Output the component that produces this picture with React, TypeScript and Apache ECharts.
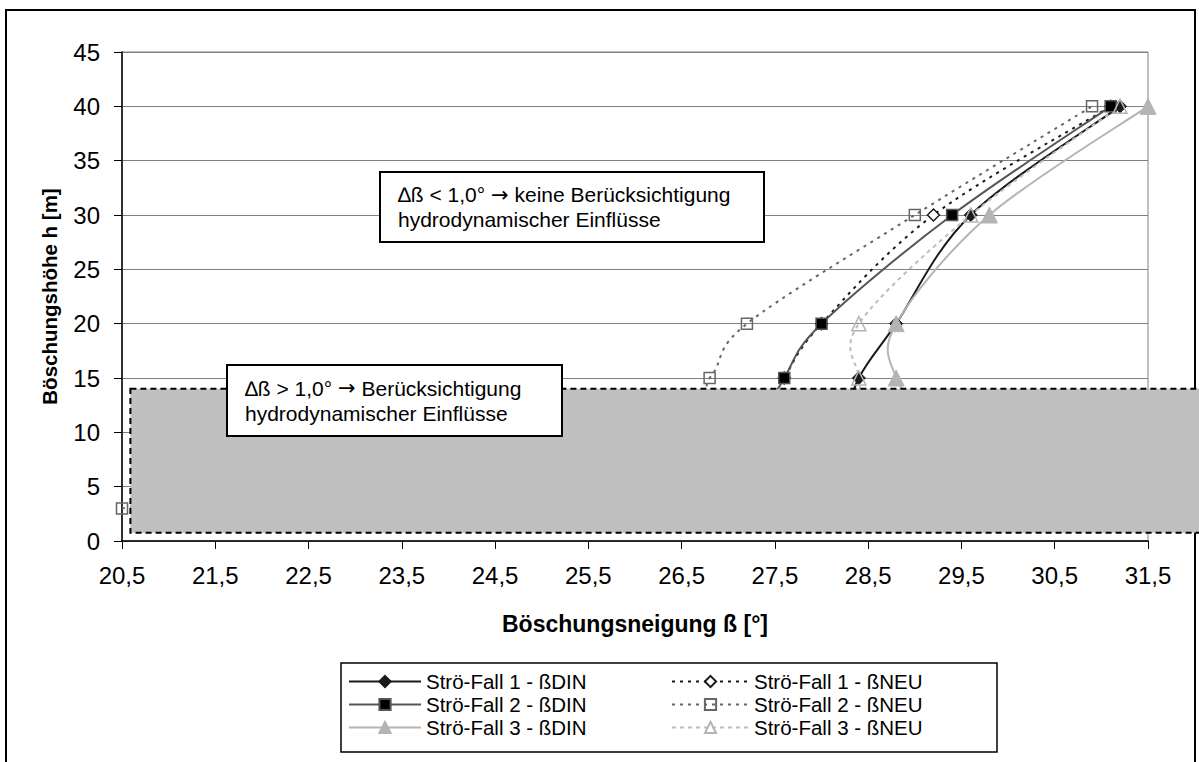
import React, { useEffect, useRef } from "react";
import * as echarts from "echarts";

// ---- data (values below h = 14 lie under the grey band) ----
const heights = [3, 10, 15, 20, 30, 40];
const fall1DIN = [27.9, 28.2, 28.4, 28.8, 29.6, 31.2];
const fall1NEU = [27.0, 27.3, 27.6, 28.0, 29.2, 31.1];
const fall2DIN = [27.0, 27.3, 27.6, 28.0, 29.4, 31.1];
const fall2NEU = [20.5, 26.2, 26.8, 27.2, 29.0, 30.9];
const fall3DIN = [29.6, 29.2, 28.8, 28.8, 29.8, 31.5];
const fall3NEU = [28.6, 28.5, 28.4, 28.4, 29.6, 31.2];

const xTicks = [20.5, 21.5, 22.5, 23.5, 24.5, 25.5, 26.5, 27.5, 28.5, 29.5, 30.5, 31.5];
const yMin = 0;
const yMax = 45;
const yStep = 5;

const bandTop = 14;
const bandBottom = 0.75;
const bandLeft = 20.59;

const names = [
  "Strö-Fall 1 - ßDIN",
  "Strö-Fall 1 - ßNEU",
  "Strö-Fall 2 - ßDIN",
  "Strö-Fall 2 - ßNEU",
  "Strö-Fall 3 - ßDIN",
  "Strö-Fall 3 - ßNEU",
];

const FONT = "'Liberation Sans', Arial, Helvetica, sans-serif";

const pair = (xs: number[]) => xs.map((x, i) => [x, heights[i]]);

type Sty = {
  name: string;
  xs: number[];
  color: string;
  dash: number[] | null;
  symbol: string;
  size: number;
  fill: string;
  border: string;
  borderWidth: number;
};

const styles: Sty[] = [
  { name: names[0], xs: fall1DIN, color: "#1a1a1a", dash: null, symbol: "diamond", size: 13, fill: "#1a1a1a", border: "#1a1a1a", borderWidth: 1 },
  { name: names[1], xs: fall1NEU, color: "#1a1a1a", dash: [3, 5], symbol: "diamond", size: 12, fill: "#ffffff", border: "#1a1a1a", borderWidth: 1.5 },
  { name: names[2], xs: fall2DIN, color: "#555555", dash: null, symbol: "rect", size: 11, fill: "#000000", border: "#555555", borderWidth: 1.5 },
  { name: names[3], xs: fall2NEU, color: "#666666", dash: [3, 5], symbol: "rect", size: 11, fill: "rgba(255,255,255,0)", border: "#666666", borderWidth: 1.5 },
  { name: names[4], xs: fall3DIN, color: "#b4b4b4", dash: null, symbol: "triangle", size: 16, fill: "#b4b4b4", border: "#b4b4b4", borderWidth: 1 },
  { name: names[5], xs: fall3NEU, color: "#bdbdbd", dash: [4, 4], symbol: "triangle", size: 14, fill: "rgba(255,255,255,0)", border: "#b4b4b4", borderWidth: 1.5 },
];

// Catmull-Rom (Excel-like smoothing) through pixel points
function smoothPath(pts: number[][]): string {
  const n = pts.length;
  if (n < 2) return "";
  let d = `M${pts[0][0]},${pts[0][1]}`;
  for (let i = 0; i < n - 1; i++) {
    const p0 = pts[Math.max(0, i - 1)];
    const p1 = pts[i];
    const p2 = pts[i + 1];
    const p3 = pts[Math.min(n - 1, i + 2)];
    const c1x = p1[0] + (p2[0] - p0[0]) / 6;
    const c1y = p1[1] + (p2[1] - p0[1]) / 6;
    const c2x = p2[0] - (p3[0] - p1[0]) / 6;
    const c2y = p2[1] - (p3[1] - p1[1]) / 6;
    d += ` C${c1x},${c1y} ${c2x},${c2y} ${p2[0]},${p2[1]}`;
  }
  return d;
}

export default function App() {
  const ref = useRef<HTMLDivElement>(null);
  useEffect(() => {
    if (!ref.current) return;
    const chart = echarts.init(ref.current, undefined, { renderer: "svg" });

    const curveSeries: any[] = styles.map((s, k) => ({
      name: "curve" + k,
      type: "custom",
      coordinateSystem: "cartesian2d",
      silent: true,
      z: 2,
      data: [[s.xs[0], heights[0]]],
      renderItem: (_params: any, api: any) => {
        const pts = s.xs.map((x, i) => api.coord([x, heights[i]]));
        return {
          type: "path",
          shape: { pathData: smoothPath(pts) },
          style: {
            fill: "none",
            stroke: s.color,
            lineWidth: 2,
            lineDash: s.dash || undefined,
          },
        };
      },
    }));

    const markerSeries: any[] = styles.map((s) => ({
      name: s.name,
      type: "line",
      data: pair(s.xs),
      clip: false,
      z: 3,
      symbol: s.symbol,
      symbolSize: s.size,
      lineStyle: { color: s.color, width: 2, type: s.dash || "solid", opacity: 0 },
      itemStyle: { color: s.fill, borderColor: s.border, borderWidth: s.borderWidth },
    }));

    const legendItem = (s: Sty) => ({
      name: s.name,
      lineStyle: { color: s.color, width: 2, type: s.dash || "solid", opacity: 1 },
    });

    const legendCommon = {
      orient: "vertical",
      itemHeight: 14,
      itemGap: 0,
      top: 670,
      padding: 0,
      textStyle: { fontFamily: FONT, fontSize: 20.5, lineHeight: 23, color: "#000" },
    };

    chart.setOption({
      animation: false,
      backgroundColor: "#ffffff",
      textStyle: { fontFamily: FONT },
      grid: {
        left: 122,
        right: 51,
        top: 52,
        bottom: 221,
        show: true,
        borderColor: "#808080",
        borderWidth: 1,
        backgroundColor: "transparent",
      },
      xAxis: {
        type: "value",
        min: xTicks[0],
        max: xTicks[xTicks.length - 1],
        name: "Böschungsneigung ß [°]",
        nameLocation: "middle",
        nameGap: 71,
        nameTextStyle: { fontFamily: FONT, fontSize: 23, fontWeight: "bold", color: "#000" },
        axisLine: { show: true, lineStyle: { color: "#000", width: 1.5 } },
        axisTick: { show: true, length: 8, lineStyle: { color: "#000" }, customValues: xTicks },
        axisLabel: {
          customValues: xTicks,
          margin: 22,
          fontSize: 24,
          color: "#000",
          fontFamily: FONT,
          formatter: (v: number) => v.toFixed(1).replace(".", ","),
        },
        splitLine: { show: false },
      },
      yAxis: {
        type: "value",
        min: yMin,
        max: yMax,
        interval: yStep,
        name: "Böschungshöhe h [m]",
        nameLocation: "middle",
        nameGap: 62,
        nameRotate: 90,
        nameTextStyle: { fontFamily: FONT, fontSize: 20.5, fontWeight: "bold", color: "#000" },
        axisLine: { show: true, lineStyle: { color: "#000", width: 1.5 } },
        axisTick: { show: true, length: 8, lineStyle: { color: "#000" } },
        axisLabel: { margin: 22, fontSize: 24, color: "#000", fontFamily: FONT },
        splitLine: { show: true, lineStyle: { color: "#808080", width: 1 } },
      },
      legend: [
        { ...legendCommon, left: 348, itemWidth: 72, data: [styles[0], styles[2], styles[4]].map(legendItem) },
        { ...legendCommon, left: 671, itemWidth: 77, data: [styles[1], styles[3], styles[5]].map(legendItem) },
      ],
      series: [...curveSeries, ...markerSeries],
    });

    const p1 = chart.convertToPixel({ gridIndex: 0 }, [bandLeft, bandTop]) as number[];
    const p2 = chart.convertToPixel({ gridIndex: 0 }, [bandLeft, bandBottom]) as number[];
    const W = chart.getWidth();

    const noteBox = (x: number, y: number, w: number, h: number, l1a: string, l1b: string, l2: string) => ({
      type: "group",
      x,
      y,
      z: 60,
      children: [
        {
          type: "rect",
          z: 60,
          shape: { x: 0, y: 0, width: w, height: h },
          style: { fill: "#ffffff", stroke: "#000000", lineWidth: 2 },
        },
        {
          type: "text",
          z: 61,
          x: 18,
          y: h / 2,
          style: {
            text: `{t|${l1a}}{a|→}{t|${l1b}}\n{t|${l2}}`,
            fontFamily: FONT,
            fontSize: 21,
            lineHeight: 25,
            fill: "#000",
            verticalAlign: "middle",
            align: "left",
            rich: {
              t: { fontFamily: FONT, fontSize: 21, lineHeight: 25, fill: "#000" },
              a: { fontFamily: "'DejaVu Sans', sans-serif", fontSize: 21, lineHeight: 25, fill: "#000" },
            },
          },
        },
      ],
    });

    chart.setOption({
      graphic: [
        {
          type: "rect",
          z: 50,
          shape: { x: p1[0], y: p1[1], width: W + 20 - p1[0], height: p2[1] - p1[1] },
          style: { fill: "#c0c0c0", stroke: "#000000", lineWidth: 2, lineDash: [6, 4] },
        },
        noteBox(380, 172, 384, 70, "∆ß < 1,0° ", " keine Berücksichtigung", "hydrodynamischer Einflüsse"),
        noteBox(227, 365, 335, 71, "∆ß > 1,0° ", " Berücksichtigung", "hydrodynamischer Einflüsse"),
        {
          type: "rect",
          z: 0,
          shape: { x: 341, y: 663, width: 656, height: 89 },
          style: { fill: "#ffffff", stroke: "#000000", lineWidth: 1.5 },
        },
        {
          type: "rect",
          z: 0,
          shape: { x: 6, y: 10, width: 1189, height: 800 },
          style: { fill: "none", stroke: "#000000", lineWidth: 2 },
        },
      ],
    });

    return () => chart.dispose();
  }, []);

  return (
    <div
      ref={ref}
      style={{ position: "fixed", left: 0, top: 0, width: 1199, height: 762, background: "#fff" }}
    />
  );
}
